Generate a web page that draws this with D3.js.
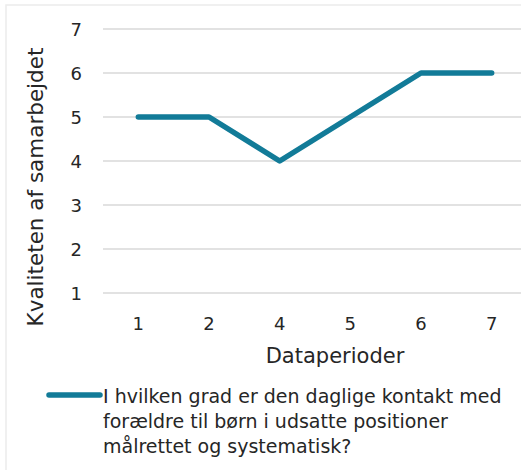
<!DOCTYPE html>
<html>
<head>
<meta charset="utf-8">
<title>Kvaliteten af samarbejdet</title>
<style>
body { margin: 0; background: #fff; }
text { font-family: 'DejaVu Sans', Verdana, sans-serif; fill: #262626; }
</style>
<script src="https://cdn.jsdelivr.net/npm/d3@7"></script>
</head>
<body>
<svg id="chart" width="521" height="470"></svg>
<script>
// data
var periods = ['1', '2', '4', '5', '6', '7'];
var scores = [5, 5, 4, 5, 6, 6];
var yTicks = [1, 2, 3, 4, 5, 6, 7];
var seriesName = ['I hvilken grad er den daglige kontakt med',
                  'forældre til børn i udsatte positioner',
                  'målrettet og systematisk?'];

var svg = d3.select('#chart');
var lineColor = '#127b98';

// frame
svg.append('rect')
  .attr('x', 6).attr('y', 5)
  .attr('width', 530).attr('height', 480)
  .attr('fill', 'none')
  .attr('stroke', '#ececec')
  .attr('stroke-width', 1.5);

var x = d3.scaleBand().domain(periods).range([103, 527]);
var y = d3.scaleLinear().domain([1, 7]).range([293, 29]);

// gridlines
svg.selectAll('.grid')
  .data(yTicks)
  .enter().append('line')
  .attr('class', 'grid')
  .attr('x1', 103).attr('x2', 527)
  .attr('y1', function(d) { return y(d); })
  .attr('y2', function(d) { return y(d); })
  .attr('stroke', '#d9d9d9')
  .attr('stroke-width', 1.5);

// y tick labels
svg.selectAll('.ytick')
  .data(yTicks)
  .enter().append('text')
  .attr('class', 'ytick')
  .attr('x', 82)
  .attr('y', function(d) { return y(d) + 6.5; })
  .attr('text-anchor', 'end')
  .style('font-size', '18px')
  .text(function(d) { return d; });

// x tick labels
svg.selectAll('.xtick')
  .data(periods)
  .enter().append('text')
  .attr('class', 'xtick')
  .attr('x', function(d) { return x(d) + x.bandwidth() / 2; })
  .attr('y', 330)
  .attr('text-anchor', 'middle')
  .style('font-size', '18px')
  .text(function(d) { return d; });

// axis titles
svg.append('text')
  .attr('x', 335).attr('y', 363)
  .attr('text-anchor', 'middle')
  .style('font-size', '21px')
  .text('Dataperioder');

svg.append('text')
  .attr('transform', 'translate(43,187) rotate(-90)')
  .attr('text-anchor', 'middle')
  .style('font-size', '21.5px')
  .text('Kvaliteten af samarbejdet');

// series line
var line = d3.line()
  .x(function(d, i) { return x(periods[i]) + x.bandwidth() / 2; })
  .y(function(d) { return y(d); });

svg.append('path')
  .datum(scores)
  .attr('d', line)
  .attr('fill', 'none')
  .attr('stroke', lineColor)
  .attr('stroke-width', 5.5)
  .attr('stroke-linecap', 'round')
  .attr('stroke-linejoin', 'round');

// legend
svg.append('line')
  .attr('x1', 49).attr('x2', 100)
  .attr('y1', 395).attr('y2', 395)
  .attr('stroke', lineColor)
  .attr('stroke-width', 5.5)
  .attr('stroke-linecap', 'round');

svg.selectAll('.legend')
  .data(seriesName)
  .enter().append('text')
  .attr('class', 'legend')
  .attr('x', 103)
  .attr('y', function(d, i) { return 403 + i * 25; })
  .style('font-size', '19px')
  .text(function(d) { return d; });
</script>
</body>
</html>
